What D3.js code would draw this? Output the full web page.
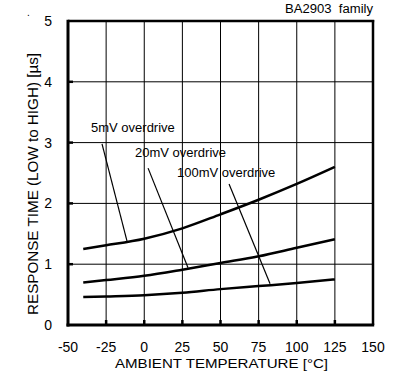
<!DOCTYPE html>
<html><head><meta charset="utf-8">
<script src="https://cdn.jsdelivr.net/npm/d3@7"></script>
<style>body{margin:0;background:#fff}svg{display:block;font-family:"Liberation Sans",Arial,sans-serif}</style>
</head><body><svg id="c" width="399" height="385"></svg>
<script>
const temps = [-40, -25, 0, 25, 50, 75, 100, 125];
const od5mV = [1.25, 1.31, 1.42, 1.59, 1.82, 2.06, 2.32, 2.6];
const od20mV = [0.70, 0.74, 0.81, 0.91, 1.02, 1.13, 1.27, 1.41];
const od100mV = [0.46, 0.47, 0.49, 0.53, 0.59, 0.64, 0.69, 0.75];
const xTicks = [-50, -25, 0, 25, 50, 75, 100, 125, 150];
const yTicks = [0, 1, 2, 3, 4, 5];
const labels = [
  {text: "5mV overdrive", lx: 91, ly: 132, from: [-27.7, 2.98], to: [-11.3, 1.38]},
  {text: "20mV overdrive", lx: 135, ly: 157, from: [2.5, 2.58], to: [28.7, 0.94]},
  {text: "100mV overdrive", lx: 177, ly: 177, from: [55.6, 2.32], to: [82.5, 0.68]}
];

const svg = d3.select("#c");
const x = d3.scaleLinear().domain([-50, 150]).range([68, 373]);
const y = d3.scaleLinear().domain([0, 5]).range([325, 21]);

// grid
svg.append("g").selectAll("line").data(xTicks.slice(1, -1)).join("line")
  .attr("x1", d => x(d)).attr("x2", d => x(d)).attr("y1", y(5)).attr("y2", y(0))
  .attr("stroke", "#000").attr("stroke-width", 1);
svg.append("g").selectAll("line").data(yTicks.slice(1, -1)).join("line")
  .attr("y1", d => y(d)).attr("y2", d => y(d)).attr("x1", x(-50)).attr("x2", x(150))
  .attr("stroke", "#000").attr("stroke-width", 1);

// inward ticks
svg.append("g").selectAll("line").data(yTicks.slice(1, -1)).join("line")
  .attr("y1", d => y(d)).attr("y2", d => y(d)).attr("x1", x(-50)).attr("x2", x(-50) + 5)
  .attr("stroke", "#000").attr("stroke-width", 2.5);
svg.append("g").selectAll("line").data(xTicks.slice(1, -1)).join("line")
  .attr("x1", d => x(d)).attr("x2", d => x(d)).attr("y1", y(0)).attr("y2", y(0) - 5)
  .attr("stroke", "#000").attr("stroke-width", 2.5);

// frame
svg.append("line").attr("x1", x(150)).attr("x2", x(150)).attr("y1", y(5) - 1).attr("y2", y(0))
  .attr("stroke", "#000").attr("stroke-width", 2.5);
svg.append("line").attr("x1", x(-50)).attr("x2", x(150) + 1.2).attr("y1", y(5)).attr("y2", y(5))
  .attr("stroke", "#000").attr("stroke-width", 2.5);
svg.append("line").attr("x1", x(-50)).attr("x2", x(-50)).attr("y1", y(5) - 1.2).attr("y2", y(0) + 1.5)
  .attr("stroke", "#000").attr("stroke-width", 3);
svg.append("line").attr("x1", x(-50) - 1.5).attr("x2", x(150) + 1.2).attr("y1", y(0)).attr("y2", y(0))
  .attr("stroke", "#000").attr("stroke-width", 3);

// tick labels
svg.append("g").selectAll("text").data(xTicks).join("text")
  .attr("x", d => x(d)).attr("y", 352).attr("text-anchor", "middle")
  .attr("font-size", 14).text(d => d);
svg.append("g").selectAll("text").data(yTicks).join("text")
  .attr("x", 52).attr("y", d => y(d) + 5).attr("text-anchor", "end")
  .attr("font-size", 14).text(d => d);

// axis titles
svg.append("text").attr("x", 115).attr("y", 368)
  .attr("font-size", 13).attr("textLength", 213).attr("lengthAdjust", "spacingAndGlyphs")
  .text("AMBIENT TEMPERATURE [°C]");
svg.append("text").attr("transform", "translate(38,315) rotate(-90)")
  .attr("font-size", 14).attr("textLength", 262).attr("lengthAdjust", "spacingAndGlyphs")
  .text("RESPONSE TIME (LOW to HIGH) [µs]");
svg.append("text").attr("x", 285).attr("y", 13)
  .attr("font-size", 12).attr("textLength", 88).attr("lengthAdjust", "spacingAndGlyphs")
  .attr("xml:space", "preserve").text("BA2903  family");
svg.append("text").attr("x", 27).attr("y", 16).attr("font-size", 10).text(".");

// curves
const line = d3.line().x((d, i) => x(temps[i])).y(d => y(d)).curve(d3.curveMonotoneX);
[od5mV, od20mV, od100mV].forEach(s => {
  svg.append("path").attr("d", line(s)).attr("fill", "none").attr("stroke", "#000").attr("stroke-width", 2.5);
});

// labels + leaders
labels.forEach(l => {
  svg.append("text").attr("x", l.lx).attr("y", l.ly).attr("font-size", 13).text(l.text);
  svg.append("line").attr("x1", x(l.from[0])).attr("y1", y(l.from[1])).attr("x2", x(l.to[0])).attr("y2", y(l.to[1]))
    .attr("stroke", "#000").attr("stroke-width", 1.2);
});
</script></body></html>
